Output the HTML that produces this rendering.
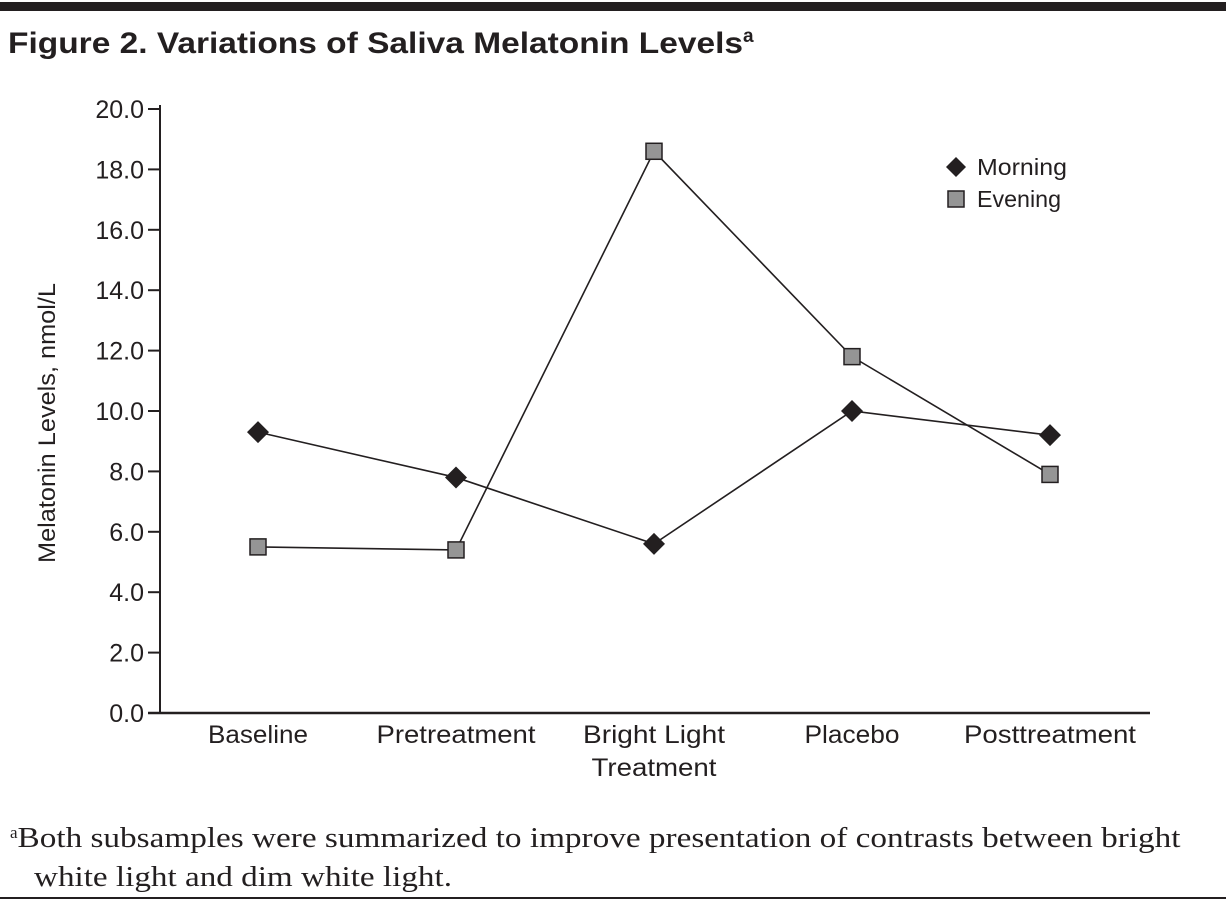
<!DOCTYPE html>
<html><head><meta charset="utf-8"><style>
body{margin:0;background:#fff;width:1226px;height:904px;overflow:hidden;font-family:"Liberation Sans",sans-serif;}
</style></head><body>
<svg width="1226" height="904" font-family="Liberation Sans, sans-serif">
<rect x="0" y="2" width="1226" height="9" fill="#231f20"/>
<text x="8" y="53" font-size="30" font-weight="bold" fill="#231f20"><tspan textLength="735" lengthAdjust="spacingAndGlyphs">Figure 2. Variations of Saliva Melatonin Levels</tspan><tspan font-size="19" dy="-11">a</tspan></text>
<g id="chart"></g>
<text x="10" y="847" font-family="Liberation Serif, serif" font-size="28" fill="#231f20"><tspan font-size="17" dy="-9">a</tspan><tspan dy="9" textLength="1163" lengthAdjust="spacingAndGlyphs">Both subsamples were summarized to improve presentation of contrasts between bright</tspan></text>
<text x="34" y="886" font-family="Liberation Serif, serif" font-size="28" fill="#231f20" textLength="418" lengthAdjust="spacingAndGlyphs">white light and dim white light.</text>
<rect x="0" y="897" width="1226" height="2" fill="#231f20"/>
</svg>
<script>
const categories=[["Baseline"],["Pretreatment"],["Bright Light","Treatment"],["Placebo"],["Posttreatment"]];
const morning=[9.3,7.8,5.6,10.0,9.2];
const evening=[5.5,5.4,18.6,11.8,7.9];
const yTicks=[0,2,4,6,8,10,12,14,16,18,20];
const labelWidth={"Baseline":100,"Pretreatment":159,"Bright Light":142,"Treatment":125,"Placebo":95,"Posttreatment":172};
const NS="http://www.w3.org/2000/svg";
const g=document.getElementById('chart');
const x0=160,y0=713,yTop=109;
function yS(v){return y0-(v/20)*(y0-yTop);}
function xS(i){return 258+i*198;}
function mk(t,a){const e=document.createElementNS(NS,t);for(const k in a)e.setAttribute(k,a[k]);g.appendChild(e);return e;}
let e;
e=mk('line',{x1:x0,y1:yTop-4,x2:x0,y2:y0,stroke:'#231f20','stroke-width':2});


e=mk('line',{x1:148,y1:y0,x2:1150,y2:y0,stroke:'#231f20','stroke-width':2.5});


yTicks.forEach(v=>{
 e=mk('line',{x1:148,y1:yS(v),x2:x0,y2:yS(v),stroke:'#231f20','stroke-width':2});
 
 
 e=mk('text',{x:144,y:yS(v)+9,'text-anchor':'end','font-size':25,fill:'#231f20'});
 e.textContent=v.toFixed(1);
 
 
});
e=mk('text',{x:0,y:0,'text-anchor':'middle','font-size':24,fill:'#231f20',textLength:280,lengthAdjust:'spacingAndGlyphs',transform:`translate(55,423) rotate(-90)`});
e.textContent='Melatonin Levels, nmol/L';


categories.forEach((c,i)=>{
 c.forEach((l,j)=>{
  e=mk('text',{x:xS(i),y:743+j*33,'text-anchor':'middle','font-size':25,fill:'#231f20',textLength:labelWidth[l]||l.length*12,lengthAdjust:'spacingAndGlyphs'});
  e.textContent=l;
  
  
 });
});
function line(vals,name){
 e=mk('polyline',{points:vals.map((v,i)=>xS(i)+','+yS(v)).join(' '),fill:'none',stroke:'#231f20','stroke-width':1.6});
 
 
}
line(morning,'morning-line');line(evening,'evening-line');
evening.forEach((v,i)=>{
 e=mk('rect',{x:xS(i)-8,y:yS(v)-8,width:16,height:16,fill:'#959595',stroke:'#231f20','stroke-width':1.5});
 
 
});
morning.forEach((v,i)=>{
 const x=xS(i),y=yS(v);
 e=mk('polygon',{points:`${x},${y-11} ${x+11},${y} ${x},${y+11} ${x-11},${y}`,fill:'#231f20'});
 
 
});
e=mk('polygon',{points:'956,157 966,167 956,177 946,167',fill:'#231f20'});


e=mk('text',{x:977,y:175,'font-size':23,fill:'#231f20',textLength:90,lengthAdjust:'spacingAndGlyphs'});e.textContent='Morning';


e=mk('rect',{x:948,y:191,width:16,height:16,fill:'#959595',stroke:'#231f20','stroke-width':1.5});


e=mk('text',{x:977,y:207,'font-size':23,fill:'#231f20',textLength:84,lengthAdjust:'spacingAndGlyphs'});e.textContent='Evening';


</script>
</body></html>
